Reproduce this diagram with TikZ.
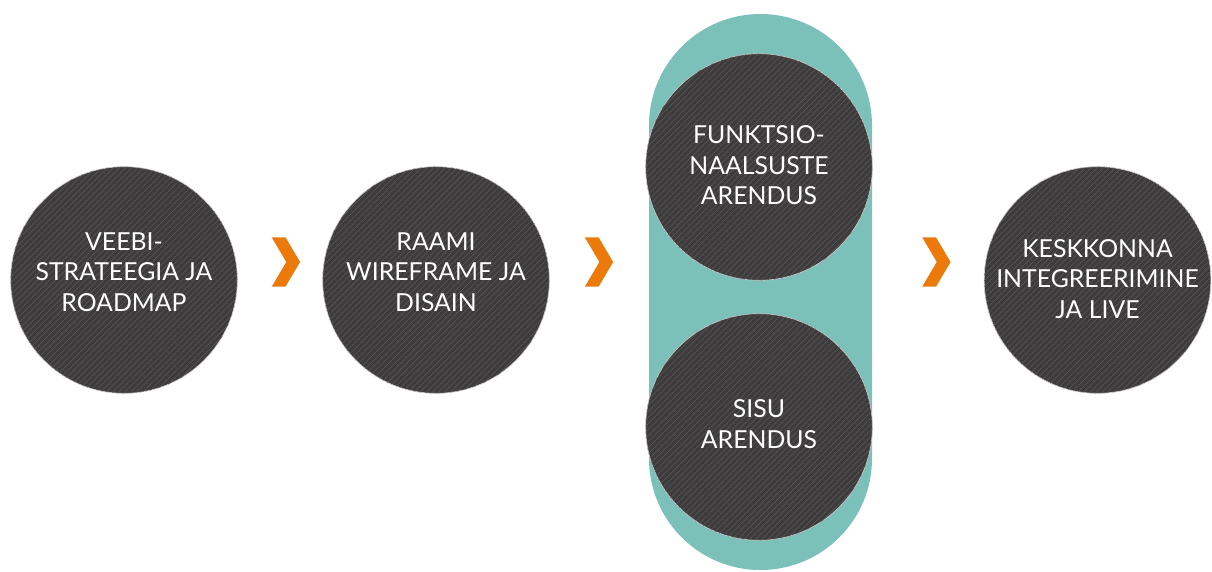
\documentclass[tikz,border=0pt]{standalone}
\usepackage{fontspec}
\setmainfont{Lato}
\usetikzlibrary{patterns.meta,calc}
\definecolor{dark}{HTML}{3D3B3B}
\definecolor{stripe}{HTML}{5C5A5A}
\definecolor{tealbg}{HTML}{7BC1B9}
\definecolor{orng}{HTML}{EB7A0B}
\tikzset{
  stepcirc/.style={circle, minimum size=170pt, inner sep=0pt, fill=dark,
    draw=gray!40, line width=0.5pt,
    postaction={pattern={Lines[angle=45,distance=3.2pt,line width=0.4pt]}, pattern color=stripe}},
  steptext/.style={text=white, align=center, inner sep=0pt, font=\fontsize{18.6}{22.8}\selectfont},
  pics/chevron/.style={code={
    \fill[orng] (-14.15,-24.6) -- (-0.35,-24.6) -- (14.15,0) -- (-0.35,24.6) -- (-14.15,24.6) -- (0.35,0) -- cycle;}}
}
\begin{document}
\begin{tikzpicture}[x=0.75pt,y=-0.75pt]
\useasboundingbox (0,0) rectangle (1212,571);
% teal band behind the two development steps
\fill[tealbg, rounded corners=83.6pt] (649,14) rectangle (872,570);
\coordinate (band) at (760.5,292);
% step circles
\node[stepcirc] (c1) at (124,280) {};
\node[stepcirc] (c2) at (436,280) {};
\node[stepcirc] (c3) at (759,167) {};
\node[stepcirc] (c4) at (759,427) {};
\node[stepcirc] (c5) at (1097.5,280) {};
% texts
\node[steptext] (t1) at ($(c1)+(0,-8)$) {VEEBI-\\STRATEEGIA JA\\ROADMAP};
\node[steptext] (t2) at ($(c2)+(0,-8)$) {RAAMI\\WIREFRAME JA\\DISAIN};
\node[steptext] (t3) at ($(c3)+(0,-1.5)$) {FUNKTSIO-\\NAALSUSTE\\ARENDUS};
\node[steptext] (t4) at ($(c4)+(0,-3)$) {SISU\\ARENDUS};
\node[steptext] (t5) at ($(c5)+(0,-1)$) {KESKKONNA\\INTEGREERIMINE\\JA LIVE};
% chevrons
\coordinate (a1) at (285.9,262);
\coordinate (a2) at (599.0,262);
\coordinate (a3) at (936.4,262);
\pic at (a1) {chevron};
\pic at (a2) {chevron};
\pic at (a3) {chevron};
\end{tikzpicture}
\end{document}
